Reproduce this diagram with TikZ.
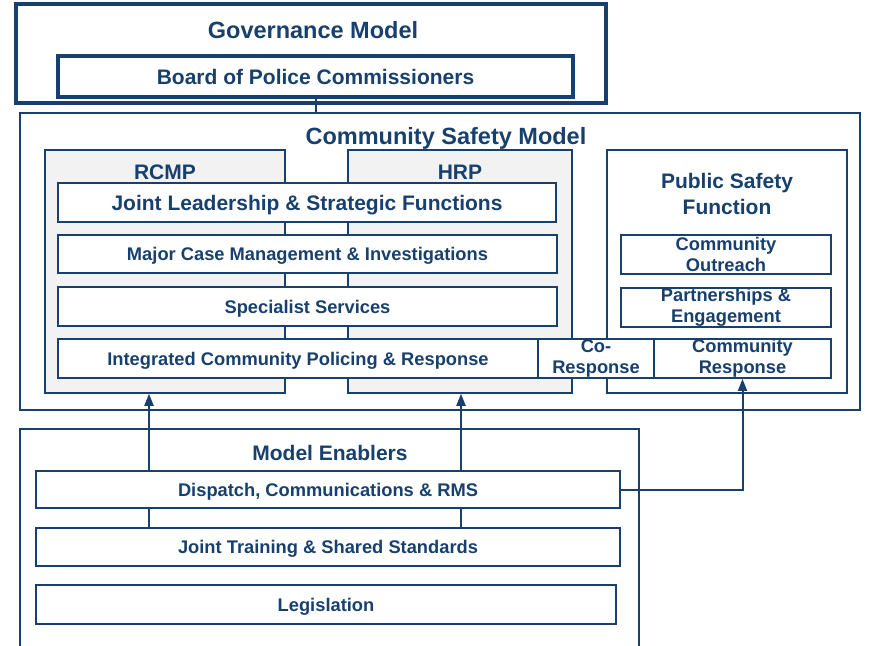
\documentclass[tikz,border=0pt]{standalone}
\usepackage{fontspec}
\setmainfont{Liberation Sans}
\usetikzlibrary{arrows.meta}

\definecolor{navy}{RGB}{24,64,110}
\definecolor{panel}{RGB}{242,242,242}

\tikzset{
	>={Triangle[length=12pt,width=9pt]},
	bigfont/.style={font=\bfseries\fontsize{23.5}{26}\selectfont},
	midfont/.style={font=\bfseries\fontsize{21}{26}\selectfont},
	smallfont/.style={font=\bfseries\fontsize{18.3}{21}\selectfont},
	box/.style={draw=navy, line width=1.8pt, fill=white, inner sep=0pt, text=navy, align=center, smallfont},
	oneline/.style={text height=13.6pt, text depth=0pt},
	onelinemid/.style={text height=15.4pt, text depth=0pt},
	heavybox/.style={box, line width=3.2pt},
	frame/.style={draw=navy, line width=1.5pt, fill=white, inner sep=0pt},
	column/.style={frame, fill=panel},
	heading/.style={text=navy, inner sep=0pt, align=center},
	link/.style={draw=navy, line width=2pt},
}

\begin{document}
\begin{tikzpicture}[x=1pt, y=-1pt]
	\useasboundingbox (0,0) rectangle (875,645);
	
	% governance
	\node[heavybox, minimum width=590, minimum height=99] (gov) at (311,53.5) {};
	\node[heading, bigfont] (govtitle) at (313,30) {Governance Model};
	\node[heavybox, midfont, onelinemid, minimum width=515, minimum height=41] (board) at (315.5,76.5) {Board of Police Commissioners};
	
	% community safety model
	\node[frame, minimum width=840, minimum height=297] (csm) at (440,261.5) {};
	\node[heading, bigfont] (csmtitle) at (446,138) {Community Safety Model};
	
	\node[column, minimum width=240, minimum height=243] (rcmp) at (165,271.5) {};
	\node[column, minimum width=224, minimum height=243] (hrp) at (460,271.5) {};
	\node[frame, minimum width=240, minimum height=243] (psf) at (727,271.5) {};
	\node[heading, midfont] (rcmptitle) at (165,172) {RCMP};
	\node[heading, midfont] (hrptitle) at (460,172) {HRP};
	\node[heading, midfont] (psftitle) at (727,194) {Public Safety\\Function};
	
	\node[box, midfont, onelinemid, minimum width=498, minimum height=39] (lead) at (307,202.5) {Joint Leadership \& Strategic Functions};
	\node[box, oneline, minimum width=499, minimum height=38] (major) at (307.5,254) {Major Case Management \& Investigations};
	\node[box, oneline, minimum width=499, minimum height=39] (spec) at (307.5,306.5) {Specialist Services};
	\node[box, oneline, minimum width=480, minimum height=39] (icp) at (298,358.5) {Integrated Community Policing \& Response};
	\node[box, minimum width=116, minimum height=39] (cores) at (596,358.5) {Co-\\Response};
	\node[box, minimum width=177, minimum height=39] (comres) at (742.5,358.5) {Community\\Response};
	\node[box, minimum width=210, minimum height=39] (outreach) at (726,254.5) {Community\\Outreach};
	\node[box, minimum width=210, minimum height=39] (partner) at (726,307.5) {Partnerships \&\\Engagement};
	
	% model enablers
	\node[frame, minimum width=619, minimum height=222] (enab) at (329.5,540) {};
	\node[heading, midfont] (enabtitle) at (330,453) {Model Enablers};
	\node[box, oneline, minimum width=584, minimum height=37] (dispatch) at (328,489.5) {Dispatch, Communications \& RMS};
	\node[box, oneline, minimum width=584, minimum height=38] (train) at (328,547) {Joint Training \& Shared Standards};
	\node[box, oneline, minimum width=580, minimum height=39] (legis) at (326,604.5) {Legislation};
	
	\coordinate (left) at (149,0);
	\coordinate (right) at (461,0);
	
	\draw[link] (board.south) -- (board.south |- csm.north);
	\draw[link, ->] (dispatch.north -| left) -- (rcmp.south -| left);
	\draw[link, ->] (dispatch.north -| right) -- (hrp.south -| right);
	\draw[link] (train.north -| left) -- (dispatch.south -| left);
	\draw[link] (train.north -| right) -- (dispatch.south -| right);
	\draw[link, ->] (dispatch.east) -| (comres.south);
\end{tikzpicture}
\end{document}
